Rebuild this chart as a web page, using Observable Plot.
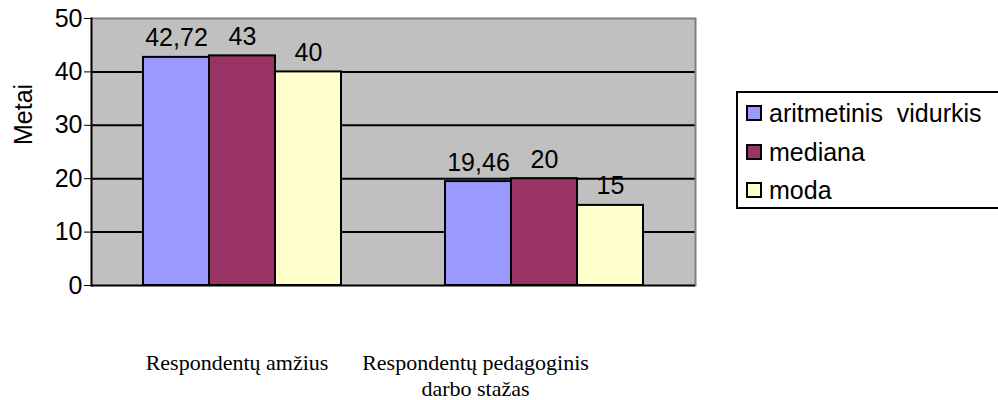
<!DOCTYPE html>
<html><head><meta charset="utf-8">
<script src="https://cdn.jsdelivr.net/npm/d3@7"></script>
<script src="https://cdn.jsdelivr.net/npm/@observablehq/plot@0.6"></script>
<style>
body{margin:0;background:#fff;}
#wrap{position:relative;width:998px;height:400px;overflow:hidden;}
#legend{position:absolute;left:736px;top:91px;width:300px;height:114px;border:2px solid #000;background:#fff;font-family:"Liberation Sans",Arial,sans-serif;font-size:25px;color:#000;}
.row{position:absolute;left:8px;display:flex;align-items:center;height:30px;white-space:pre;}
.sw{width:12px;height:12px;border:2px solid #000;margin-right:7px;}
</style></head>
<body><div id="wrap"><div id="chart"></div><div id="legend"></div></div>
<script>
const categories = ["Respondentų amžius", "Respondentų pedagoginis darbo stažas"];
const categoryLabels = ["Respondentų amžius", "Respondentų pedagoginis\ndarbo stažas"];
const series = ["aritmetinis  vidurkis", "mediana", "moda"];
const vidurkis = [42.72, 19.46];
const mediana = [43, 20];
const moda = [40, 15];
const colors = ["#9999FF", "#993366", "#FFFFCC"];
const yTicks = [0, 10, 20, 30, 40, 50];
const yLabel = "Metai";

const seriesValues = [vidurkis, mediana, moda];
const data = [];
categories.forEach((c, i) => series.forEach((s, j) => data.push({category: c, series: s, value: seriesValues[j][i]})));
const fmt = v => String(v).replace(".", ",");
const serif = "'Liberation Serif', 'Times New Roman', serif";

const chart = Plot.plot({
  width: 998, height: 400,
  marginLeft: 91, marginRight: 303, marginTop: 18, marginBottom: 115,
  style: {fontFamily: "'Liberation Sans', Arial, sans-serif", fontSize: "25px", color: "#000", background: "transparent"},
  fx: {domain: categories, padding: 0, axis: null},
  x: {domain: series, paddingInner: 0, paddingOuter: 0.754, axis: null},
  y: {domain: [0, 50], ticks: yTicks, tickSize: 7, tickPadding: 2, label: null},
  color: {domain: series, range: colors},
  marks: [
    Plot.frame({fill: "#C0C0C0", stroke: "none", inset: -0.6}),
    Plot.ruleY(yTicks.filter(t => t > 0 && t < 50), {stroke: "#000", strokeWidth: 2}),
    Plot.ruleY([50], {stroke: "#808080", strokeWidth: 2}),
    Plot.frame({anchor: "right", stroke: "#808080", strokeWidth: 2, facetAnchor: "right"}),
    Plot.barY(data, {fx: "category", x: "series", y: "value", fill: "series", stroke: "#000", strokeWidth: 2}),
    Plot.ruleY([0], {stroke: "#000", strokeWidth: 2}),
    Plot.frame({anchor: "left", stroke: "#000", strokeWidth: 2, facetAnchor: "left"}),
    Plot.text(data, {fx: "category", x: "series", y: "value", text: d => fmt(d.value), dy: -11, lineAnchor: "bottom", fontSize: 25}),
    Plot.text([categories[0]], {fx: d => d, text: () => categoryLabels[0], frameAnchor: "bottom", lineAnchor: "top", dy: 66, dx: -5.5, fontFamily: serif, fontSize: 22, lineHeight: 1.18}),
    Plot.text([categories[1]], {fx: d => d, text: () => categoryLabels[1], frameAnchor: "bottom", lineAnchor: "top", dy: 66, dx: -69, fontFamily: serif, fontSize: 22, lineHeight: 1.18}),
    Plot.text([categories[0]], {fx: d => d, text: () => yLabel, frameAnchor: "left", rotate: -90, dx: -68, dy: -7, fontSize: 25})
  ]
});
document.getElementById("chart").appendChild(chart);

const legend = document.getElementById("legend");
const rowTops = [5, 44, 82];
series.forEach((s, i) => {
  const row = document.createElement("div");
  row.className = "row";
  row.style.top = rowTops[i] + "px";
  const sw = document.createElement("div");
  sw.className = "sw";
  sw.style.background = colors[i];
  const t = document.createElement("span");
  t.textContent = s;
  row.appendChild(sw); row.appendChild(t);
  legend.appendChild(row);
});
</script>
</body></html>
